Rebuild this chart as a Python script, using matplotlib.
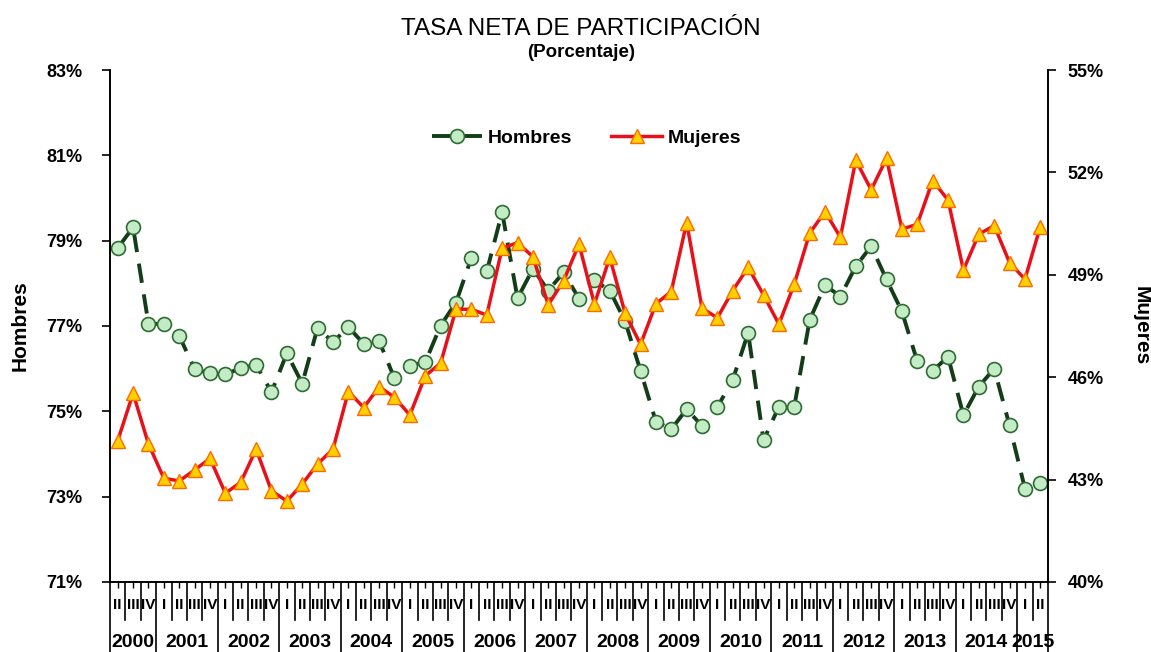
import matplotlib.pyplot as plt

plt.rcParams['font.family'] = ['Liberation Sans', 'DejaVu Sans']

# quarterly series, 2000-II .. 2015-II
years = ['2000', '2001', '2002', '2003', '2004', '2005', '2006', '2007',
         '2008', '2009', '2010', '2011', '2012', '2013', '2014', '2015']
quarters_per_year = [3] + [4] * 14 + [2]
quarter_names = ['I', 'II', 'III', 'IV']

hombres = [78.83, 79.31, 77.05, 77.05, 76.77, 75.99, 75.89, 75.87, 76.01, 76.09,
           75.45, 76.36, 75.65, 76.96, 76.62, 76.98, 76.58, 76.65, 75.77, 76.07,
           76.15, 77.01, 77.55, 78.60, 78.28, 79.67, 77.65, 78.34, 77.83, 78.26,
           77.64, 78.07, 77.83, 77.11, 75.95, 74.76, 74.58, 75.05, 74.66, 75.10,
           75.74, 76.84, 74.32, 75.11, 75.11, 77.14, 77.96, 77.69, 78.40, 78.87,
           78.09, 77.34, 76.17, 75.95, 76.28, 74.91, 75.58, 76.00, 74.67, 73.19,
           73.32]
mujeres = [44.14, 45.53, 44.04, 43.04, 42.96, 43.28, 43.62, 42.60, 42.92, 43.89,
           42.67, 42.37, 42.87, 43.46, 43.89, 45.58, 45.11, 45.72, 45.41, 44.89,
           46.04, 46.41, 47.99, 47.99, 47.82, 49.78, 49.94, 49.53, 48.12, 48.83,
           49.90, 48.14, 49.51, 47.87, 46.96, 48.15, 48.51, 50.53, 48.02, 47.74,
           48.54, 49.22, 48.41, 47.55, 48.73, 50.22, 50.85, 50.10, 52.36, 51.49,
           52.41, 50.34, 50.48, 51.76, 51.19, 49.14, 50.19, 50.44, 49.36, 48.87,
           50.41]

left_ticks = [71, 73, 75, 77, 79, 81, 83]
right_ticks = [40, 43, 46, 49, 52, 55]

# quarter labels per point
q_labels = []
for i, n in enumerate(quarters_per_year):
    start = 1 if i == 0 else 0
    q_labels += quarter_names[start:start + n]
x = list(range(len(hombres)))

fig = plt.figure(figsize=(11.51, 6.52), dpi=100)
ax = fig.add_axes([0.0956, 0.1074, 0.8149, 0.7852])
ax2 = ax.twinx()

ax.plot(x, hombres, color='#123d17', lw=2.8, ls=(0, (5, 3)),
        marker='o', ms=10, mfc='#c4ecc4', mec='#2f6b34', mew=1.2,
        label='Hombres')
ax2.plot(x, mujeres, color='#e8101a', lw=2.5,
         marker='^', ms=10, mfc='#ffd000', mec='#ff6a00', mew=1.0,
         label='Mujeres')

ax.set_xlim(-0.5, len(x) - 0.5)
ax.set_ylim(71, 83)
ax2.set_ylim(40, 55)
ax.set_yticks(left_ticks)
ax.set_yticklabels([f'{v}%' for v in left_ticks], fontsize=13, fontweight='bold')
ax2.set_yticks(right_ticks)
ax2.set_yticklabels([f'{v}%' for v in right_ticks], fontsize=13, fontweight='bold')
ax.tick_params(axis='y', length=6, width=1.2, pad=14)
ax2.tick_params(axis='y', length=6, width=1.2, pad=8)

for a in (ax, ax2):
    a.spines['top'].set_visible(False)
    for s in ('left', 'right', 'bottom'):
        a.spines[s].set_linewidth(1.2)

# x axis: short ticks at points, separators between quarters and years
ax.set_xticks(x)
ax.set_xticklabels([])
ax.tick_params(axis='x', length=4, width=1.0)
trans = ax.get_xaxis_transform()
year_bounds = [-0.5]
for n in quarters_per_year:
    year_bounds.append(year_bounds[-1] + n)
for b in range(len(x) + 1):
    xb = b - 0.5
    if xb in year_bounds:
        ax.plot([xb, xb], [0, -0.16], color='black', lw=1.2,
                transform=trans, clip_on=False)
    else:
        ax.plot([xb, xb], [0, -0.075], color='black', lw=1.2,
                transform=trans, clip_on=False)
for xi, lab in zip(x, q_labels):
    ax.text(xi, -0.045, lab, transform=trans, ha='center', va='center',
            fontsize=11, fontweight='bold')
for i, yr in enumerate(years):
    xc = (year_bounds[i] + year_bounds[i + 1]) / 2
    ax.text(xc, -0.118, yr, transform=trans, ha='center', va='center',
            fontsize=14, fontweight='bold')

ax.set_ylabel('Hombres', fontsize=15, fontweight='bold', labelpad=12)
ax2.set_ylabel('Mujeres', fontsize=15, fontweight='bold', rotation=270,
               labelpad=34)

fig.text(0.505, 0.956, 'TASA NETA DE PARTICIPACIÓN', ha='center', va='center',
         fontsize=17.5)
fig.text(0.505, 0.92, '(Porcentaje)', ha='center', va='center',
         fontsize=13.5, fontweight='bold')

h1, l1 = ax.get_legend_handles_labels()
h2, l2 = ax2.get_legend_handles_labels()
ax2.legend(h1 + h2, l1 + l2, loc='center', bbox_to_anchor=(0.508, 0.867),
           ncol=2, frameon=False, prop={'size': 14, 'weight': 'bold'},
           handlelength=2.6, columnspacing=2.0, handletextpad=0.3)

fig.savefig('out.png', dpi=100)
